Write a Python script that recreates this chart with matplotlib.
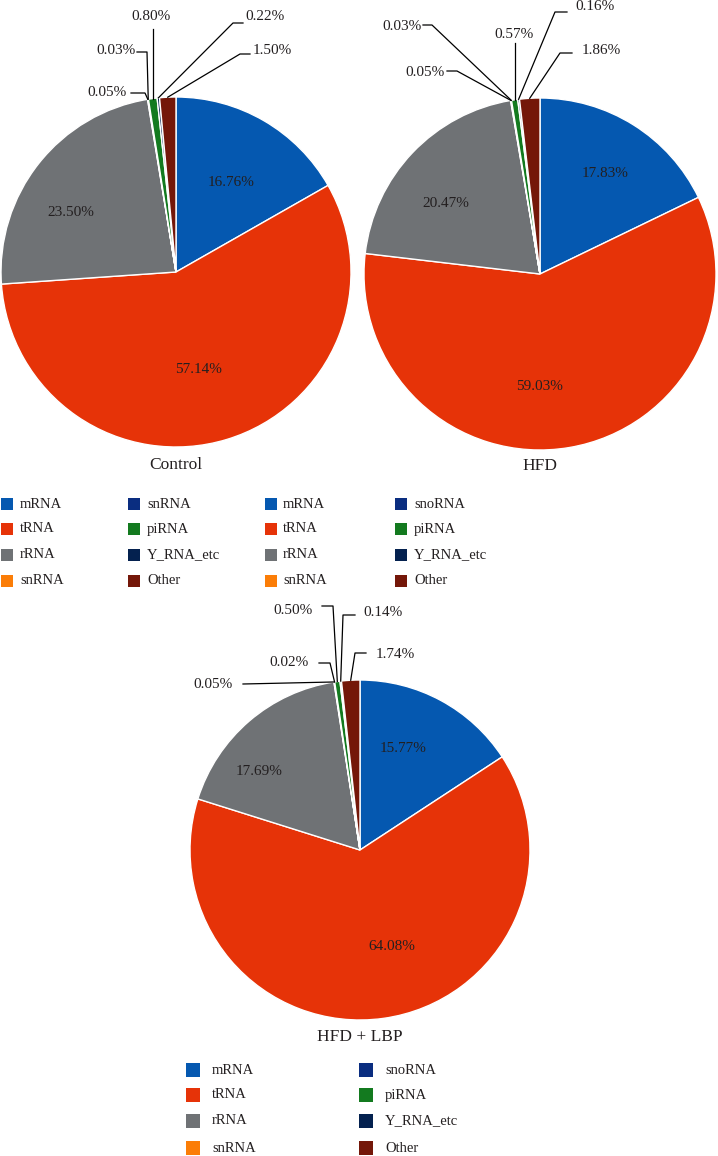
import numpy as np
import matplotlib
matplotlib.use("Agg")
import matplotlib.pyplot as plt
from matplotlib.patches import Rectangle

plt.rcParams["font.family"] = ["Liberation Serif", "DejaVu Serif"]

# =========================================================
# DATOS
# =========================================================

tipos = ["mRNA", "tRNA", "rRNA", "snRNA", "snoRNA", "piRNA", "Y_RNA_etc", "Other"]

colores = ["#0558B0", "#E63308", "#6F7275", "#FB7D07",
           "#0A2D80", "#137A1F", "#04214F", "#741709"]

control = [16.76, 57.14, 23.50, 0.05, 0.03, 0.80, 0.22, 1.50]
hfd = [17.83, 59.03, 20.47, 0.05, 0.03, 0.57, 0.16, 1.86]
hfd_lbp = [15.77, 64.08, 17.69, 0.05, 0.02, 0.50, 0.14, 1.74]

leyenda_control = ["mRNA", "tRNA", "rRNA", "snRNA", "snRNA", "piRNA", "Y_RNA_etc", "Other"]
leyenda_hfd = ["mRNA", "tRNA", "rRNA", "snRNA", "snoRNA", "piRNA", "Y_RNA_etc", "Other"]

# =========================================================
# LAYOUT (pixeles, origen arriba-izquierda)
# =========================================================

W, H = 718, 1156
TXT = "#231F20"

# etiquetas internas: (distancia relativa, desplazamiento angular en grados)
internas_control = {0: (0.60, -1.5), 1: (0.57, -4), 2: (0.69, 9)}
internas_hfd = {0: (0.68, -1), 1: (0.64, -9.6), 2: (0.67, 6.8)}
internas_lbp = {0: (0.65, 5.4), 1: (0.60, 10.4), 2: (0.75, 11.3)}

# etiquetas pequenas: (texto_x, texto_y, ha, codo_x, codo_y, fin_x)
guias_control = {
    3: (127, 93, "right", 145, 93, 131),
    4: (136, 51, "right", 147, 52, 137),
    5: (151, 17, "center", None, 29, None),
    6: (245, 17, "left", 233, 23, 243),
    7: (253, 50, "left", 240, 54, 250),
}
guias_hfd = {
    3: (445, 72, "right", 457, 71, 447),
    4: (422, 27, "right", 432, 25, 423),
    5: (514, 35, "center", None, 43, None),
    6: (575, 7, "left", 555, 12, 567),
    7: (582, 50, "left", 560, 53, 572),
}
guias_lbp = {
    3: (233, 685, "right", 243, 684, 243),
    4: (309, 663, "right", 330, 663, 319),
    5: (313, 610, "right", 333, 606, 322),
    6: (363, 613, "left", 343, 615, 355),
    7: (376, 655, "left", 355, 653, 366),
}

fig = plt.figure(figsize=(W / 100, H / 100), dpi=100)

capa = fig.add_axes([0, 0, 1, 1], zorder=5)
capa.set_xlim(0, W)
capa.set_ylim(H, 0)
capa.axis("off")
capa.patch.set_alpha(0)


def dibujar_pie(valores, cx, cy, r, titulo, titulo_y, internas, guias):

    ax = fig.add_axes([(cx - r) / W, (H - cy - r) / H, 2 * r / W, 2 * r / H])

    wedges, _ = ax.pie(
        valores,
        colors=colores,
        startangle=90,
        counterclock=False,
        wedgeprops={"edgecolor": "white", "linewidth": 1.0},
    )
    ax.set_xlim(-1, 1)
    ax.set_ylim(-1, 1)
    ax.set_aspect("equal")
    ax.axis("off")

    for i, w in enumerate(wedges):
        medio = (w.theta1 + w.theta2) / 2
        theta = np.deg2rad(medio)
        texto = f"{valores[i]:.2f}%"

        if i in internas:
            d, dang = internas[i]
            t2 = np.deg2rad(medio + dang)
            ax.text(
                d * np.cos(t2), d * np.sin(t2), texto,
                ha="center", va="center", fontsize=11, color=TXT
            )
            continue

        px = cx + r * np.cos(theta)
        py = cy - r * np.sin(theta)
        tx, ty, ha, ex, ey, fx = guias[i]
        if ex is None:
            ex = px
        if fx is None:
            fx = ex
        capa.plot([px, ex, fx], [py, ey, ey], color="black", lw=0.9)
        capa.text(tx, ty, texto, ha=ha, va="center", fontsize=11, color=TXT)

    capa.text(cx, titulo_y, titulo, ha="center", va="center", fontsize=12.5, color=TXT)


def dibujar_leyenda(etiquetas, x_marca, x_texto, y_filas, lado):

    for i, (etq, col) in enumerate(zip(etiquetas, colores)):
        c = i // 4
        f = i % 4
        capa.add_patch(Rectangle(
            (x_marca[c], y_filas[f] - lado / 2), lado, lado,
            facecolor=col, edgecolor="none"
        ))
        capa.text(x_texto[c], y_filas[f], etq, ha="left", va="center",
                  fontsize=10.5, color=TXT)


dibujar_pie(control, 176, 272, 175, "Control", 465, internas_control, guias_control)
dibujar_pie(hfd, 540, 274, 176, "HFD", 466, internas_hfd, guias_hfd)
dibujar_pie(hfd_lbp, 360, 850, 170, "HFD + LBP", 1037, internas_lbp, guias_lbp)

dibujar_leyenda(leyenda_control, [1, 128], [20, 147], [504, 529, 555, 581], 12)
dibujar_leyenda(leyenda_hfd, [265, 395], [283, 414], [504, 529, 555, 581], 12)
dibujar_leyenda(leyenda_hfd, [186, 359], [212, 385], [1070, 1095, 1121, 1148], 14)

fig.savefig("out.png", dpi=100)
plt.close(fig)
